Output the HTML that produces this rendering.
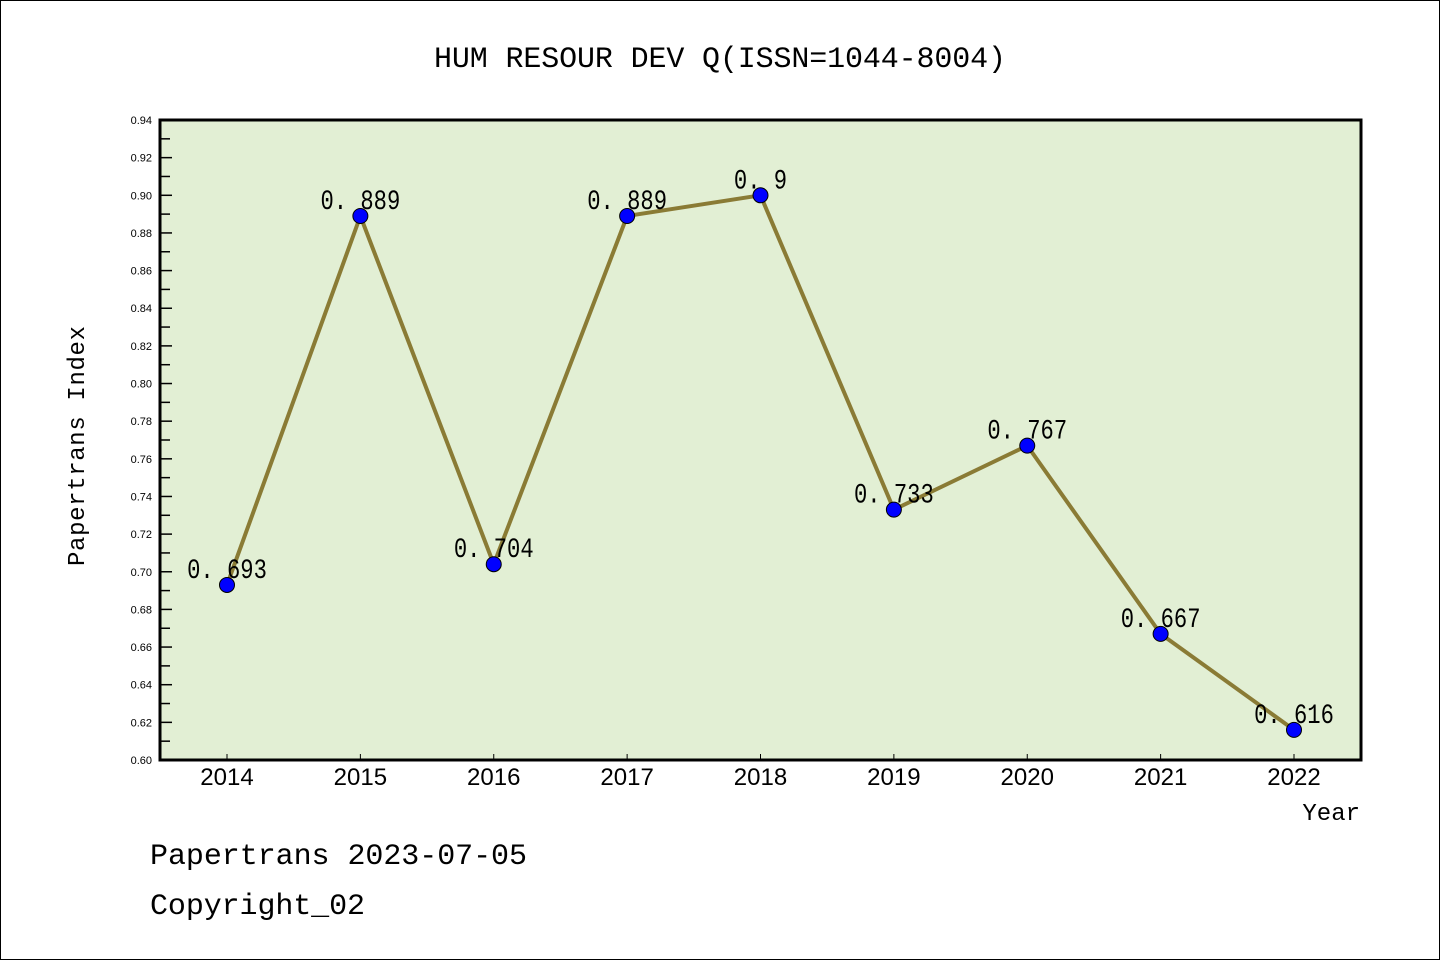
<!DOCTYPE html>
<html><head><meta charset="utf-8"><style>
html,body{margin:0;padding:0;background:#fff}
svg{display:block}
text{font-family:"Liberation Mono","DejaVu Sans Mono",monospace}
</style></head><body>
<svg id="chart" width="1440" height="960" xmlns="http://www.w3.org/2000/svg">
<rect x="0.5" y="0.5" width="1439" height="959" fill="#fff" stroke="#000" stroke-width="1"/>
<text x="720" y="67" font-size="30" text-anchor="middle" fill="#000" textLength="572">HUM RESOUR DEV Q(ISSN=1044-8004)</text>
<rect x="160" y="120" width="1201" height="640" fill="#e2efd4"/>
<g id="yticks"></g>
<g id="xticks"></g>
<g id="series"></g>
<rect x="160" y="120" width="1201" height="640" fill="none" stroke="#000" stroke-width="3"/>
<text transform="translate(84,446) rotate(-90)" font-size="24" text-anchor="middle" fill="#000" textLength="240">Papertrans Index</text>
<text x="1360" y="820" font-size="24" text-anchor="end" fill="#000">Year</text>
<text x="150" y="864" font-size="30" fill="#000" textLength="377">Papertrans 2023-07-05</text>
<text x="150" y="914" font-size="30" fill="#000" textLength="215">Copyright_02</text>
</svg>
<script>
const years = ["2014","2015","2016","2017","2018","2019","2020","2021","2022"];
const values = [0.693,0.889,0.704,0.889,0.9,0.733,0.767,0.667,0.616];
const valueLabels = ["0.693","0.889","0.704","0.889","0.9","0.733","0.767","0.667","0.616"];
const yTickLabels = ["0.60","0.62","0.64","0.66","0.68","0.70","0.72","0.74","0.76","0.78","0.80","0.82","0.84","0.86","0.88","0.90","0.92","0.94"];

const NS="http://www.w3.org/2000/svg";
const yMin=0.60,yMax=0.94,plotTop=120,plotBottom=760;
const xFirst=227,xLast=1294;
function yScale(v){return plotBottom-(v-yMin)/(yMax-yMin)*(plotBottom-plotTop);}
function xScale(i){return xFirst+i*(xLast-xFirst)/(years.length-1);}
function mk(tag,attrs,parent){const e=document.createElementNS(NS,tag);for(const k in attrs)e.setAttribute(k,attrs[k]);parent.appendChild(e);return e;}

const yt=document.getElementById('yticks');
for(let i=0;i<yTickLabels.length;i++){
  const v=parseFloat(yTickLabels[i]);const y=yScale(v);
  const t=mk('line',{x1:160,x2:172,y1:y,y2:y,stroke:'#000','stroke-width':1.5},yt);
  
  
  const l=mk('text',{x:152,y:y+4,'font-size':11,'text-anchor':'end',fill:'#000',style:'font-family:"Liberation Sans",sans-serif'},yt);
  l.textContent=yTickLabels[i];
  
  
  if(i<yTickLabels.length-1){
    const ym=yScale(v+0.01);
    const m=mk('line',{x1:160,x2:170,y1:ym,y2:ym,stroke:'#000','stroke-width':1.5},yt);
    
    
  }
}
const xt=document.getElementById('xticks');
years.forEach((yr,i)=>{
  const x=xScale(i);
  const t=mk('line',{x1:x,x2:x,y1:760,y2:754,stroke:'#000','stroke-width':1},xt);
  
  
  const l=mk('text',{x:x,y:785,'font-size':24,'text-anchor':'middle',fill:'#000',style:'font-family:"Liberation Sans",sans-serif'},xt);
  l.textContent=yr;
  
  
});
const s=document.getElementById('series');
const pts=values.map((v,i)=>xScale(i)+','+yScale(v)).join(' ');
const pl=mk('polyline',{points:pts,fill:'none',stroke:'#8a7b35','stroke-width':4,'stroke-linejoin':'round'},s);


values.forEach((v,i)=>{
  const c=mk('circle',{cx:xScale(i),cy:yScale(v),r:7.5,fill:'#0000ff',stroke:'#000','stroke-width':1},s);
  
  
});
values.forEach((v,i)=>{
  const txt=valueLabels[i].replace('.','. ');
  const l=mk('text',{x:xScale(i),y:yScale(v)-7,'font-size':28,'text-anchor':'middle',fill:'#000',textLength:txt.length*13.3,lengthAdjust:'spacingAndGlyphs'},s);
  l.textContent=txt;
  
  
});
</script>
</body></html>
